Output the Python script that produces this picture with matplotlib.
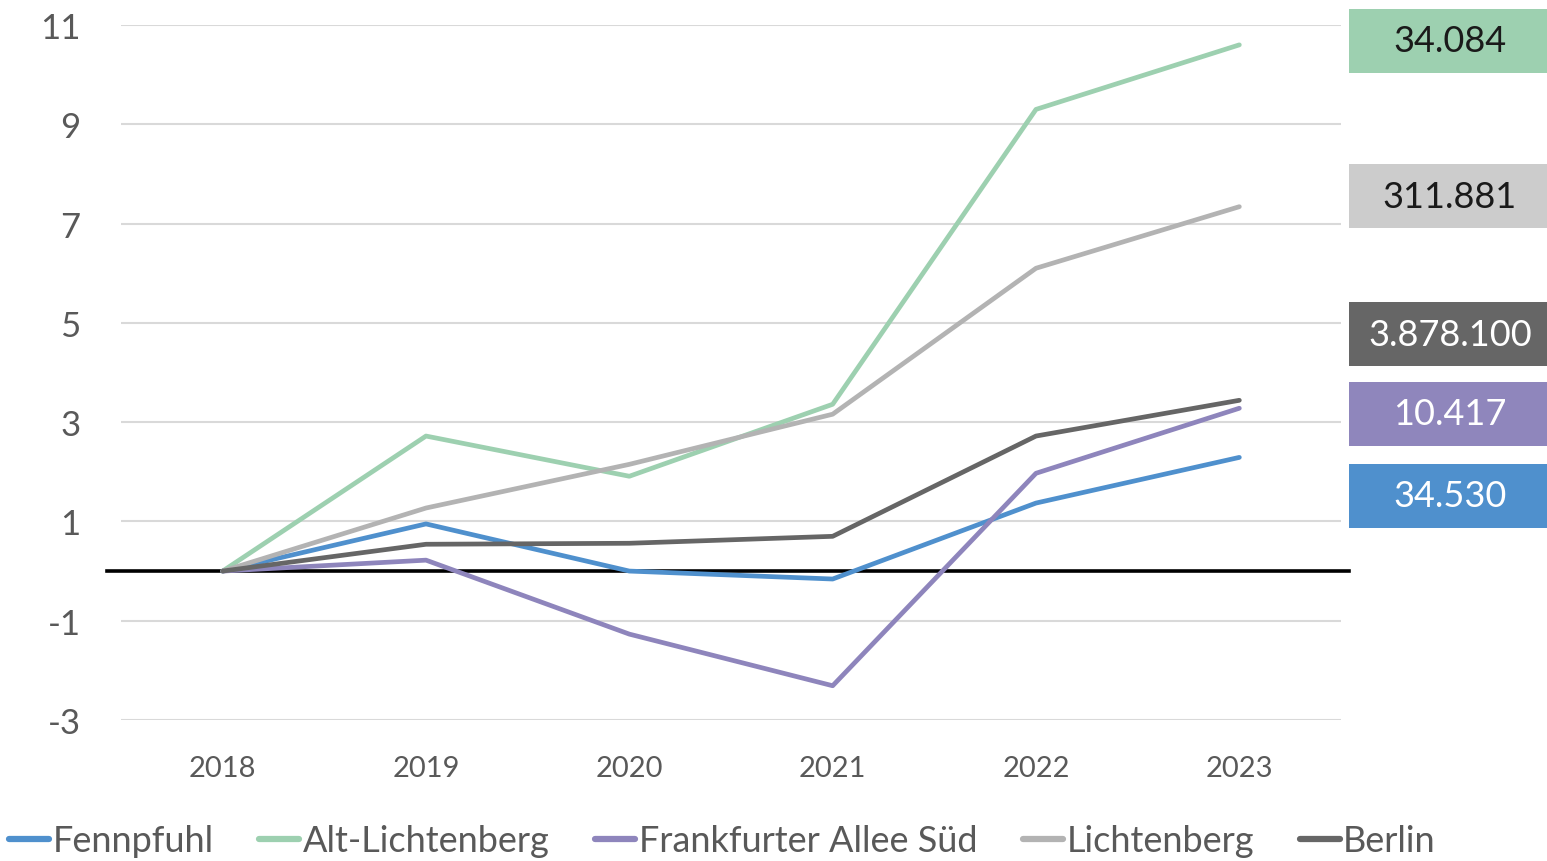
import matplotlib
matplotlib.use("Agg")
import matplotlib.pyplot as plt
from matplotlib.patches import Rectangle

plt.rcParams["font.family"] = ["Lato", "DejaVu Sans"]
plt.rcParams["axes.unicode_minus"] = False

# ================================================================
# Data
# ================================================================

years = ["2018", "2019", "2020", "2021", "2022", "2023"]

fennpfuhl = [0.0, 0.95, 0.0, -0.16, 1.37, 2.29]
alt_lichtenberg = [0.0, 2.72, 1.91, 3.36, 9.30, 10.60]
frankfurter_allee_sued = [0.0, 0.22, -1.27, -2.31, 1.97, 3.28]
lichtenberg = [0.0, 1.27, 2.15, 3.16, 6.10, 7.34]
berlin = [0.0, 0.54, 0.56, 0.70, 2.72, 3.44]

series_names = ["Fennpfuhl", "Alt-Lichtenberg", "Frankfurter Allee Süd", "Lichtenberg", "Berlin"]
series_values = [fennpfuhl, alt_lichtenberg, frankfurter_allee_sued, lichtenberg, berlin]
series_colors = ["#4f90cd", "#9dd0b0", "#8e85bc", "#b3b3b3", "#666666"]

# end-of-line boxes (absolute values), top to bottom
box_labels = ["34.084", "311.881", "3.878.100", "10.417", "34.530"]
box_colors = ["#9dd0b0", "#cccccc", "#666666", "#8f86bc", "#4f90cd"]
box_text_colors = ["#1a1a1a", "#1a1a1a", "white", "white", "white"]
box_centers_px = [41.5, 197, 335, 415, 497]

yticks = [-3, -1, 1, 3, 5, 7, 9, 11]

# ================================================================
# Plot
# ================================================================

W, H = 1547, 862
fig = plt.figure(figsize=(W / 100, H / 100), dpi=100)
ax = fig.add_axes([121 / W, 1 - 721 / H, (1341 - 121) / W, (721 - 26) / H])

x = list(range(len(years)))
for name, vals, col in zip(series_names, series_values, series_colors):
    ax.plot(x, vals, color=col, linewidth=3.4, label=name, solid_capstyle="round", zorder=3)

ax.set_xlim(-0.5, len(years) - 0.5)
ax.set_ylim(-3, 11)
ax.set_yticks(yticks)
ax.set_xticks(x)
ax.set_xticklabels(years)
ax.grid(axis="y", color="#d9d9d9", linewidth=1.5)
ax.set_axisbelow(True)
for s in ax.spines.values():
    s.set_visible(False)
ax.tick_params(length=0)
ax.tick_params(axis="y", labelsize=25, labelcolor="#595959", pad=29)
ax.tick_params(axis="x", labelsize=21, labelcolor="#595959", pad=25)

# zero line, slightly wider than the plot area
ax.axhline(0, xmin=-0.0115, xmax=1.0066, color="black", linewidth=2.6, clip_on=False, zorder=2)

# value boxes on the right
for lab, bc, tc, cy in zip(box_labels, box_colors, box_text_colors, box_centers_px):
    h = 64
    fig.patches.append(Rectangle((1349 / W, 1 - (cy + h / 2) / H), (W - 1349) / W, h / H,
                                 transform=fig.transFigure, facecolor=bc, edgecolor="none"))
    fig.text((1349 + W) / 2 / W + 2 / W, 1 - cy / H, lab, ha="center", va="center",
             fontsize=26, color=tc)

leg = fig.legend(loc="center", bbox_to_anchor=(0.467, 1 - 842 / H), ncol=5, frameon=False,
                 fontsize=26, handlelength=1.1, handletextpad=0.1, columnspacing=1.27,
                 borderaxespad=0)
for t in leg.get_texts():
    t.set_color("#595959")
for l in leg.get_lines():
    l.set_linewidth(4.5)

fig.savefig("out.png", dpi=100)
